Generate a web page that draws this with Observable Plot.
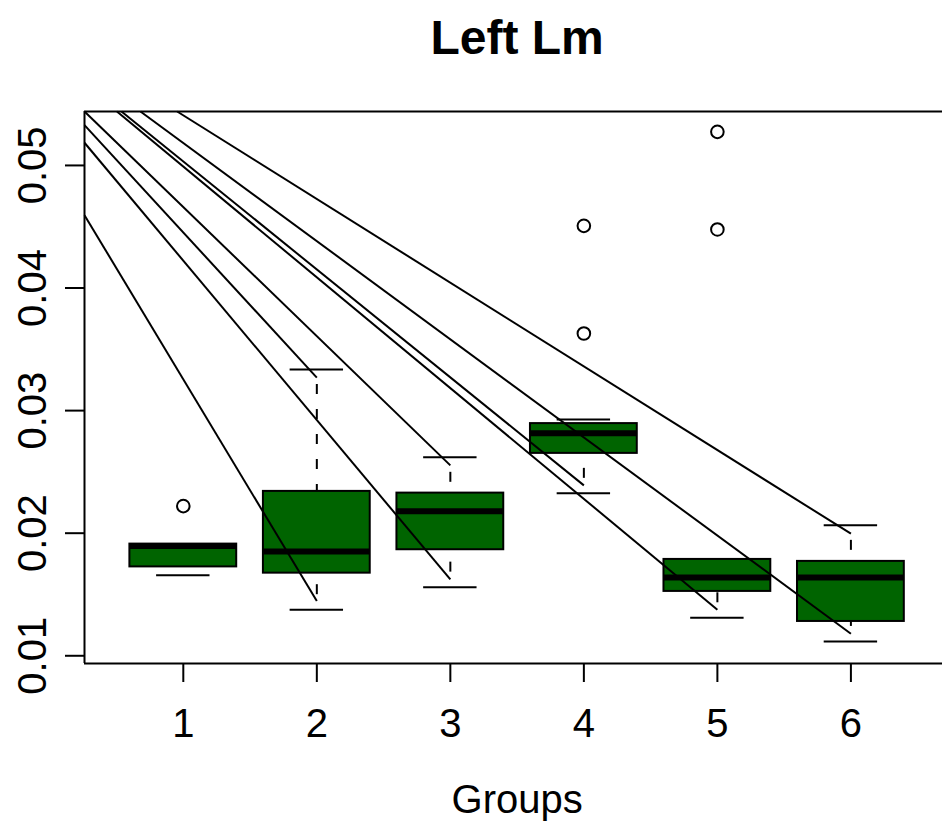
<!DOCTYPE html>
<html>
<head>
<meta charset="utf-8">
<script src="https://cdn.jsdelivr.net/npm/d3@7"></script>
<script src="https://cdn.jsdelivr.net/npm/@observablehq/plot@0.6"></script>
<style>
  html, body { margin: 0; padding: 0; background: #fff; overflow: hidden; }
  #chart svg { display: block; }
</style>
</head>
<body>
<div id="chart"></div>
<script>
// ---- data ----
const title = "Left Lm";
const xLabel = "Groups";
const groups = [1, 2, 3, 4, 5, 6];
const lowerWhisker = [0.01656, 0.01376, 0.01560, 0.02325, 0.01310, 0.01117];
const q1           = [0.01725, 0.01674, 0.01865, 0.02651, 0.01525, 0.01280];
const median       = [0.01895, 0.01851, 0.02178, 0.02815, 0.01639, 0.01639];
const q3           = [0.01911, 0.02341, 0.02327, 0.02894, 0.01786, 0.01770];
const upperWhisker = [0.01911, 0.03335, 0.02619, 0.02927, 0.01790, 0.02064];

const outlierGroup = [1, 4, 4, 5, 5];
const outlierValue = [0.02221, 0.04507, 0.03629, 0.05274, 0.04478];

// straight lines drawn over the boxplot (start -> end, data units)
const lineX1 = [0.26, 0.26, 0.26, 0.26, 0.537, 0.503, 0.679, 0.954];
const lineY1 = [0.04594, 0.05329, 0.05185, 0.0544, 0.0544, 0.0544, 0.0544, 0.0544];
const lineX2 = [2, 2, 3, 3, 4, 5, 6, 6];
const lineY2 = [0.01446, 0.03269, 0.01623, 0.02553, 0.02390, 0.01376, 0.01180, 0.01996];

const yTicks = [0.01, 0.02, 0.03, 0.04, 0.05];
const yTickLabels = ["0.01", "0.02", "0.03", "0.04", "0.05"];
const xTicks = groups;

const xDomain = [0.26, 6.686];
const yDomain = [0.00937, 0.0544];

// ---- tables built from the arrays ----
const boxes = groups.map((g, i) => ({
  g, lw: lowerWhisker[i], q1: q1[i], med: median[i], q3: q3[i], uw: upperWhisker[i]
}));
const outliers = outlierGroup.map((g, i) => ({g, v: outlierValue[i]}));
const lines = lineX1.map((x1, i) => ({x1, y1: lineY1[i], x2: lineX2[i], y2: lineY2[i]}));

const boxHalf = 0.4, stapleHalf = 0.2;
const font = "'Liberation Sans', Arial, Helvetica, sans-serif";
const center = d3.mean(groups);
const dash = {strokeDasharray: "10,15", strokeDashoffset: 10};

const chart = Plot.plot({
  width: 942,
  height: 821,
  marginLeft: 84,
  marginRight: 0,
  marginTop: 111,
  marginBottom: 158,
  style: {fontFamily: font, background: "#fff", color: "#000"},
  x: {type: "linear", domain: xDomain},
  y: {type: "linear", domain: yDomain},
  marks: [
    // whiskers (drawn from the whisker end toward the box)
    Plot.ruleX(boxes, {x: "g", y1: "uw", y2: "q3", stroke: "black", strokeWidth: 2, ...dash}),
    Plot.ruleX(boxes, {x: "g", y1: "lw", y2: "q1", stroke: "black", strokeWidth: 2, ...dash}),
    // staples
    Plot.ruleY(boxes, {y: "uw", x1: d => d.g - stapleHalf, x2: d => d.g + stapleHalf, stroke: "black", strokeWidth: 2}),
    Plot.ruleY(boxes, {y: "lw", x1: d => d.g - stapleHalf, x2: d => d.g + stapleHalf, stroke: "black", strokeWidth: 2}),
    // boxes
    Plot.rect(boxes, {x1: d => d.g - boxHalf, x2: d => d.g + boxHalf, y1: "q1", y2: "q3",
      fill: "#006400", stroke: "black", strokeWidth: 2}),
    // medians
    Plot.ruleY(boxes, {y: "med", x1: d => d.g - boxHalf, x2: d => d.g + boxHalf, stroke: "black", strokeWidth: 6, strokeLinecap: "butt"}),
    // outliers
    Plot.dot(outliers, {x: "g", y: "v", r: 6.3, stroke: "black", strokeWidth: 2, fill: "none"}),
    // overlay lines
    Plot.link(lines, {x1: "x1", y1: "y1", x2: "x2", y2: "y2", stroke: "black", strokeWidth: 2}),
    // frame (top, bottom, left)
    Plot.ruleY(yDomain, {stroke: "black", strokeWidth: 2}),
    Plot.ruleX([xDomain[0]], {stroke: "black", strokeWidth: 2}),
    // axes
    Plot.axisY({ticks: yTicks, tickFormat: d => yTickLabels[yTicks.indexOf(d)], tickSize: 19, tickPadding: 20,
      tickRotate: -90, fontSize: 40, strokeWidth: 2, label: null, anchor: "left"}),
    Plot.axisX({ticks: xTicks, tickFormat: d => String(d), tickSize: 19, tickPadding: 26,
      fontSize: 40, strokeWidth: 2, label: null, anchor: "bottom"}),
    // title and x label
    Plot.text([title], {x: () => center, frameAnchor: "top", dy: -58, lineAnchor: "bottom",
      fontSize: 48, fontWeight: "bold", fill: "black"}),
    Plot.text([xLabel], {x: () => center, frameAnchor: "bottom", dy: 149, lineAnchor: "bottom",
      fontSize: 40, fill: "black"})
  ]
});
document.getElementById("chart").appendChild(chart);
</script>
</body>
</html>
